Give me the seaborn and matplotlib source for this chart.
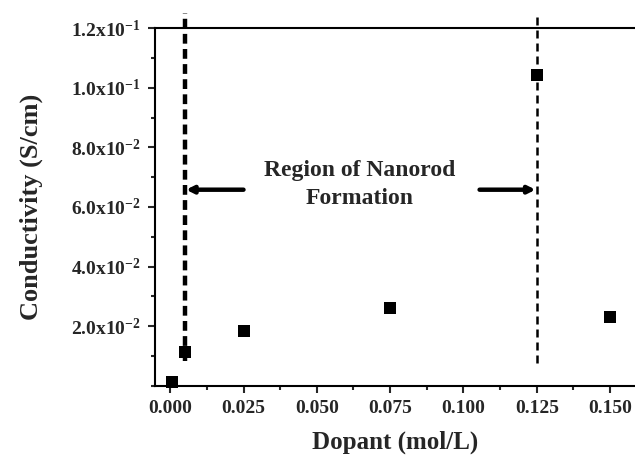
import matplotlib
matplotlib.use("Agg")
import matplotlib.pyplot as plt
import seaborn as sns
import pandas as pd
from matplotlib.ticker import FixedLocator, MultipleLocator

# Data
dopant = [0.0005, 0.005, 0.025, 0.075, 0.125, 0.150]
conductivity = [0.0012, 0.0112, 0.0183, 0.0261, 0.1044, 0.0230]
region_bounds = [0.005, 0.125]
x_ticks = [0.000, 0.025, 0.050, 0.075, 0.100, 0.125, 0.150]
x_tick_labels = ["0.000", "0.025", "0.050", "0.075", "0.100", "0.125", "0.150"]
y_ticks = [0.02, 0.04, 0.06, 0.08, 0.10, 0.12]
y_tick_labels = [r"2.0x10$^{-2}$", r"4.0x10$^{-2}$", r"6.0x10$^{-2}$",
                 r"8.0x10$^{-2}$", r"1.0x10$^{-1}$", r"1.2x10$^{-1}$"]
annotation_text = "Region of Nanorod\nFormation"
arrow_y = 0.0658

sns.set_theme(style="ticks")
plt.rcParams["font.family"] = ["Liberation Serif", "DejaVu Serif"]
plt.rcParams["font.weight"] = "bold"
plt.rcParams["mathtext.fontset"] = "custom"
plt.rcParams["mathtext.rm"] = "Liberation Serif:bold"
plt.rcParams["mathtext.it"] = "Liberation Serif:bold"
plt.rcParams["mathtext.bf"] = "Liberation Serif:bold"

df = pd.DataFrame({"Dopant": dopant, "Conductivity": conductivity})

fig = plt.figure(figsize=(6.35, 4.61), dpi=100)
ax = fig.add_axes([0.244, 0.163, 0.756, 0.776])

sns.scatterplot(data=df, x="Dopant", y="Conductivity", marker="s", color="black",
                s=70, edgecolor="black", linewidth=0, ax=ax, zorder=3, clip_on=False)

# dashed boundaries
ax.vlines(region_bounds[0], 0.0085, 0.125, colors="black", linestyles=(0, (2.2, 1.2)),
          linewidth=3.2, clip_on=False, zorder=2)
ax.vlines(region_bounds[1], 0.0078, 0.125, colors="black", linestyles=(0, (3.2, 2.0)),
          linewidth=1.8, clip_on=False, zorder=2)

# arrows
ax.annotate("", xy=(region_bounds[0] + 0.0004, arrow_y), xytext=(0.025, arrow_y),
            arrowprops=dict(arrowstyle="-|>", color="black", lw=3.2, mutation_scale=10,
                            shrinkA=0, shrinkB=0))
ax.annotate("", xy=(region_bounds[1] - 0.0004, arrow_y), xytext=(0.1055, arrow_y),
            arrowprops=dict(arrowstyle="-|>", color="black", lw=3.2, mutation_scale=10,
                            shrinkA=0, shrinkB=0))
ax.text(0.0645, 0.0675, annotation_text, ha="center", va="center", fontsize=17,
        fontweight="bold", linespacing=1.4)

ax.set_xlim(-0.0052, 0.1585)
ax.set_ylim(0, 0.12)
ax.xaxis.set_major_locator(FixedLocator(x_ticks))
ax.set_xticklabels(x_tick_labels)
ax.xaxis.set_minor_locator(MultipleLocator(0.0125))
ax.yaxis.set_major_locator(FixedLocator(y_ticks))
ax.set_yticklabels(y_tick_labels)
ax.yaxis.set_minor_locator(MultipleLocator(0.01))

ax.tick_params(axis="both", which="major", direction="out", length=5, width=1.5,
               labelsize=14, pad=5)
ax.tick_params(axis="both", which="minor", direction="out", length=3, width=1.5)
for lab in ax.get_xticklabels() + ax.get_yticklabels():
    lab.set_fontweight("bold")

for side in ["left", "bottom", "top"]:
    ax.spines[side].set_linewidth(1.5)
    ax.spines[side].set_color("black")
ax.spines["right"].set_visible(False)

ax.set_xlabel("Dopant (mol/L)", fontsize=18, fontweight="bold", labelpad=10)
ax.set_ylabel("Conductivity (S/cm)", fontsize=19, fontweight="bold", labelpad=20)

fig.savefig("out.png", dpi=100)
